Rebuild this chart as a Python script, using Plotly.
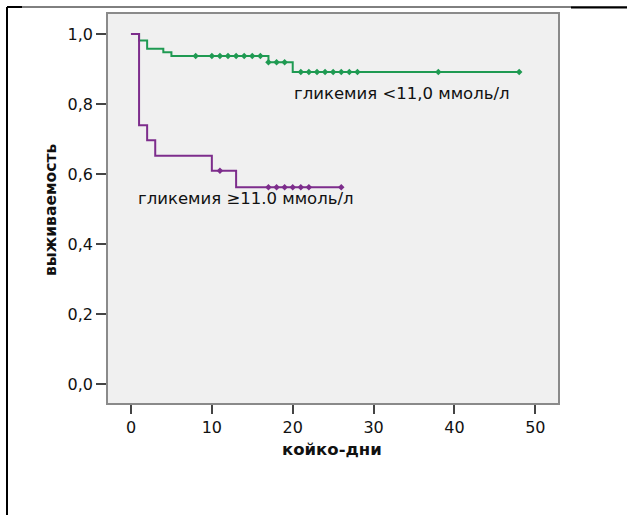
import plotly.graph_objects as go

# Kaplan-Meier step data
green_t = [0, 1, 2, 4, 5, 17, 20, 48]
green_s = [1.0, 0.981, 0.958, 0.948, 0.937, 0.919, 0.891, 0.891]
green_cens_t = [8, 10, 11, 12, 13, 14, 15, 16, 17, 18, 19, 21, 22, 23, 24, 25, 26, 27, 28, 38, 48]
green_cens_s = [0.937]*8 + [0.919]*3 + [0.891]*10

purple_t = [0, 1, 2, 3, 10, 13, 26]
purple_s = [1.0, 0.739, 0.696, 0.652, 0.609, 0.562, 0.562]
purple_cens_t = [11, 17, 18, 19, 20, 21, 22, 26]
purple_cens_s = [0.609] + [0.562]*7

x_ticks = [0, 10, 20, 30, 40, 50]
y_ticks = [0.0, 0.2, 0.4, 0.6, 0.8, 1.0]

label_green = "гликемия <11,0 ммоль/л"
label_purple = "гликемия ≥11.0 ммоль/л"
x_title = "койко-дни"
y_title = "выживаемость"

GREEN = "#1f9a52"
PURPLE = "#7d2d8c"
FONT = "DejaVu Sans"

W, H = 627, 515
L, R, T, B = 108, 69, 14, 112

fig = go.Figure()
fig.add_trace(go.Scatter(x=green_t, y=green_s, mode="lines", line=dict(color=GREEN, width=2, shape="hv"), hoverinfo="skip"))
fig.add_trace(go.Scatter(x=purple_t, y=purple_s, mode="lines", line=dict(color=PURPLE, width=2, shape="hv"), hoverinfo="skip"))
fig.add_trace(go.Scatter(x=green_cens_t, y=green_cens_s, mode="markers", marker=dict(color=GREEN, size=5, symbol="diamond"), hoverinfo="skip"))
fig.add_trace(go.Scatter(x=purple_cens_t, y=purple_cens_s, mode="markers", marker=dict(color=PURPLE, size=5, symbol="diamond"), hoverinfo="skip"))

fig.add_annotation(x=19.86, y=0.831, xref="x", yref="y", text=label_green, showarrow=False,
                   xanchor="left", yanchor="middle", font=dict(family=FONT, size=16.5, color="#111"))
fig.add_annotation(x=0.62, y=0.53, xref="x", yref="y", text=label_purple, showarrow=False,
                   xanchor="left", yanchor="middle", font=dict(family=FONT, size=16.5, color="#111"))

pw, ph = W - L - R, H - T - B
def px(x): return (x - L) / pw
def py(y): return (H - B - y) / ph

fig.add_annotation(x=px(51), y=py(210), xref="paper", yref="paper", text="<b>%s</b>" % y_title, textangle=-90,
                   showarrow=False, xanchor="center", yanchor="middle", font=dict(family=FONT, size=15.5, color="#111"))
fig.add_annotation(x=px(332), y=py(449), xref="paper", yref="paper", text="<b>%s</b>" % x_title,
                   showarrow=False, xanchor="center", yanchor="middle", font=dict(family=FONT, size=16.5, color="#111"))

# page frame lines
fig.add_shape(type="line", xref="paper", yref="paper", x0=px(7), x1=px(627), y0=py(7), y1=py(7), line=dict(color="black", width=1))
fig.add_shape(type="line", xref="paper", yref="paper", x0=px(7), x1=px(22), y0=py(7), y1=py(7), line=dict(color="black", width=2))
fig.add_shape(type="line", xref="paper", yref="paper", x0=px(571), x1=px(627), y0=py(7.5), y1=py(7.5), line=dict(color="black", width=2))
fig.add_shape(type="line", xref="paper", yref="paper", x0=px(7), x1=px(7), y0=py(7), y1=py(515), line=dict(color="black", width=2))

fig.update_layout(
    width=W, height=H, margin=dict(l=L, r=R, t=T, b=B),
    paper_bgcolor="white", plot_bgcolor="#f0f0f0",
    showlegend=False, separators=", ",
    font=dict(family=FONT, size=14, color="#111"),
)
fig.update_xaxes(range=[-2.84, 52.8], tickvals=x_ticks, ticks="outside", ticklen=9, tickcolor="#444", tickwidth=1.5,
                 showline=True, linecolor="#8a8a8a", linewidth=1.5, mirror=True, showgrid=False, zeroline=False,
                 tickfont=dict(family=FONT, size=16))
fig.update_yaxes(range=[-0.0543, 1.057], tickvals=y_ticks, tickformat=".1f", ticks="outside", ticklen=10, tickcolor="#444", tickwidth=1.5,
                 showline=True, linecolor="#8a8a8a", linewidth=1.5, mirror=True, showgrid=False, zeroline=False,
                 tickfont=dict(family=FONT, size=16))

fig.write_html("out.html")
